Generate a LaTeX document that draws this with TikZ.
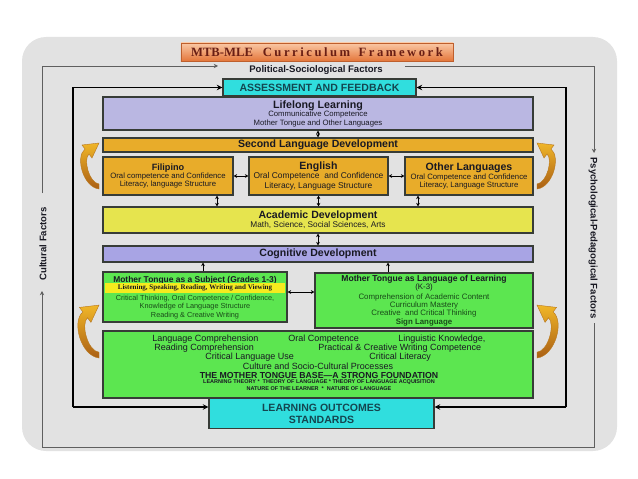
\documentclass[tikz,border=0pt]{standalone}
\usepackage{fontspec}
\setmainfont{Liberation Sans}
\newfontfamily\titlefont[LetterSpace=20]{Liberation Serif}
\newfontfamily\plainserif{Liberation Serif}
\usetikzlibrary{arrows.meta, positioning, calc}
\definecolor{mypanel}{RGB}{226,226,226}
\definecolor{myframe}{RGB}{95,95,95}
\definecolor{mycyan}{RGB}{48,222,222}
\definecolor{myteal}{RGB}{20,70,80}
\definecolor{mylav}{RGB}{186,183,226}
\definecolor{mylavdark}{RGB}{168,164,228}
\definecolor{myorange}{RGB}{232,172,42}
\definecolor{myyellow}{RGB}{230,228,78}
\definecolor{mystrip}{RGB}{245,235,30}
\definecolor{mygreen}{RGB}{92,230,80}
\definecolor{mygtext}{RGB}{25,75,25}
\definecolor{myedge}{RGB}{55,60,55}
\definecolor{mytext}{RGB}{25,25,35}
\definecolor{titletop}{RGB}{250,200,165}
\definecolor{titlebot}{RGB}{228,118,58}
\definecolor{titleedge}{RGB}{190,95,45}
\definecolor{titletext}{RGB}{105,30,20}
\definecolor{arrowgold}{RGB}{240,182,40}
\definecolor{arrowbrown}{RGB}{170,95,20}
\definecolor{arrowedge}{RGB}{185,120,30}
\tikzset{
  box/.style={rectangle, draw=myedge, line width=0.8pt, inner sep=0pt,
    align=center, text=mytext, font=\fontsize{5.5}{6}\selectfont},
  widebox/.style={box, minimum width=10.75cm},
  head/.style={font=\fontsize{7.5}{8}\selectfont\bfseries},
  frame/.style={draw=black, line width=1.3pt},
  factor/.style={draw=myframe, line width=0.6pt},
  factortext/.style={font=\fontsize{6.8}{7}\selectfont\bfseries, text=mytext, inner sep=0pt},
  basetext/.style={font=\fontsize{6.4}{7}\selectfont, text=mytext, inner sep=0pt},
  tinycaps/.style={font=\fontsize{3.9}{4.6}\selectfont\bfseries, text=mytext, inner sep=0pt, align=center},
  dblarrow/.style={{Stealth[length=2.5pt,width=2.6pt]}-{Stealth[length=2.5pt,width=2.6pt]}, line width=0.7pt},
  uparrow/.style={-{Stealth[length=2.5pt,width=2.6pt]}, line width=0.7pt},
  curlarrow/.pic={
    \shade[top color=arrowgold, bottom color=arrowbrown, draw=arrowedge, line width=0.3pt]
      (0,-5) .. controls (-10,-6) and (-16,-30) .. (-10,-35)
      -- (-7,-31) -- (0,-46) -- (-17,-44) -- (-14,-40)
      .. controls (-24,-32) and (-16,-2) .. (0,0) -- cycle;
  }
}

\begin{document}
\begin{tikzpicture}[x=0.025cm, y=-0.025cm]
  \useasboundingbox (0,0) rectangle (638,479);
  \fill[mypanel, rounded corners=0.6cm] (22,37) rectangle (617,451);

  % Title
  \node[rectangle, draw=titleedge, line width=0.5pt, top color=titletop, bottom color=titlebot,
    minimum width=6.8cm, minimum height=0.45cm, inner sep=0pt, text=titletext] (title) at (317,52)
    {{\plainserif\bfseries\fontsize{9}{10}\selectfont MTB-MLE}\hspace{7pt}{\titlefont\bfseries\fontsize{9}{10}\selectfont Curriculum\hspace{6pt}Framework}};

  % Factors round the outside
  \node[factortext] (pol) at (316,70) {Political-Sociological Factors};
  \node[factortext, rotate=90] (cult) at (43,244) {Cultural Factors};
  \node[factortext, rotate=-90] (psy) at (593,238) {Psychological-Pedagogical Factors};
  \coordinate (gtl) at (42,66);
  \coordinate (gtr) at (594,66);
  \coordinate (gbr) at (594,447);
  \coordinate (gbl) at (42,447);
  \coordinate (pa) at (218,66);
  \coordinate (pb) at (405,66);
  \coordinate (psa) at (594,153);
  \coordinate (psb) at (594,323);
  \coordinate (ca) at (42,291);
  \coordinate (cb) at (42,193);
  \draw[factor, -{Stealth[length=3pt,width=3pt]}] (cb) -- (gtl) -- (pa);
  \draw[factor, -{Stealth[length=3pt,width=3pt]}] (pb) -- (gtr) -- (psa);
  \draw[factor, -{Stealth[length=3pt,width=3pt]}] (psb) -- (gbr) -- (gbl) -- (ca);

  % Boxes
  \node[box, fill=mycyan, minimum width=4.825cm, minimum height=0.425cm, text=myteal,
    font=\fontsize{7.5}{8}\selectfont\bfseries] (assess) at (319.5,87.5) {ASSESSMENT AND FEEDBACK};
  \node[widebox, fill=mylav, minimum height=0.825cm] (life) at (318,113.5)
    {{\fontsize{7.6}{8}\selectfont\bfseries Lifelong Learning}\\Communicative Competence\\Mother Tongue and Other Languages};
  \node[widebox, fill=myorange, minimum height=0.35cm, head] (second) at (318,145) {Second Language Development};
  \node[box, fill=myorange, minimum width=3.25cm, minimum height=0.95cm] (fil) at (168,176)
    {{\fontsize{6.5}{7}\selectfont\bfseries Filipino}\\Oral competence and Confidence\\Literacy, language Structure};
  \node[box, fill=myorange, minimum width=3.475cm, minimum height=0.95cm, font=\fontsize{6}{6.6}\selectfont] (eng) at (318.5,176)
    {{\fontsize{7.5}{8}\selectfont\bfseries English}\\Oral Competence\ \ and Confidence\\Literacy, Language Structure};
  \node[box, fill=myorange, minimum width=3.2cm, minimum height=0.95cm] (oth) at (469,176)
    {{\fontsize{7.5}{8}\selectfont\bfseries Other Languages}\\Oral Competence and Confidence\\Literacy, Language Structure};
  \node[widebox, fill=myyellow, minimum height=0.65cm, font=\fontsize{5.9}{6.6}\selectfont] (acad) at (318,220)
    {{\fontsize{7.5}{8}\selectfont\bfseries Academic Development}\\Math, Science, Social Sciences, Arts};
  \node[widebox, fill=mylavdark, minimum height=0.4cm, head] (cog) at (318,254) {Cognitive Development};

  % Mother tongue boxes
  \node[box, fill=mygreen, minimum width=4.6cm, minimum height=1.25cm] (mts) at (195,297) {};
  \node[inner sep=0pt, font=\fontsize{6}{6.5}\selectfont\bfseries, text=mytext] (mtstitle) at (195,280)
    {Mother Tongue as a Subject (Grades 1-3)};
  \node[fill=mystrip, minimum width=4.5cm, minimum height=0.24cm, inner sep=0pt,
    font=\plainserif\bfseries\fontsize{5}{5.5}\selectfont, text=mytext] (strip) at (195,288)
    {Listening, Speaking, Reading, Writing and Viewing};
  \node[inner sep=0pt, align=center, font=\fontsize{5.2}{5.8}\selectfont, text=mygtext] (mtstext) at (195,307)
    {Critical Thinking, Oral Competence / Confidence,\\Knowledge of Language Structure\\Reading \& Creative Writing};
  \node[box, fill=mygreen, minimum width=5.45cm, minimum height=1.375cm, text=mygtext,
    font=\fontsize{5.6}{5.9}\selectfont] (mtl) at (424,300.5)
    {{\fontsize{6.1}{6.3}\selectfont\bfseries\color{mytext}Mother Tongue as Language of Learning}\\
     {\color{mytext}(K-3)}\\[1pt]
     Comprehension of Academic Content\\Curriculum Mastery\\Creative\ \ and Critical Thinking\\\textbf{Sign Language}};

  % Base box
  \node[widebox, fill=mygreen, minimum height=1.675cm] (base) at (318,364.5) {};
  \node[basetext, anchor=west] (lc) at (152,339) {Language Comprehension};
  \node[basetext, anchor=west] (oc) at (288,339) {Oral Competence};
  \node[basetext, anchor=west] (lk) at (398,339) {Linguistic Knowledge,};
  \node[basetext, anchor=west] (rc) at (154,348) {Reading Comprehension};
  \node[basetext, anchor=west] (pw) at (318,348) {Practical \& Creative Writing Competence};
  \node[basetext, anchor=west] (cl) at (205,357) {Critical Language Use};
  \node[basetext, anchor=west] (lit) at (369,357) {Critical Literacy};
  \node[basetext] (cult2) at (318,366) {Culture and Socio-Cultural Processes};
  \node[basetext, font=\fontsize{6.2}{7}\selectfont\bfseries] (found) at (319,375) {THE MOTHER TONGUE BASE—A STRONG FOUNDATION};
  \node[tinycaps] (theory) at (319,385)
    {LEARNING THEORY *\ \ THEORY OF LANGUAGE * THEORY OF LANGUAGE ACQUISITION\\NATURE OF THE LEARNER\ \ *\ \ NATURE OF LANGUAGE};

  \node[box, fill=mycyan, minimum width=5.625cm, minimum height=0.75cm, text=myteal,
    font=\fontsize{7.5}{8.4}\selectfont\bfseries] (outc) at (321.5,413.5) {LEARNING OUTCOMES\\STANDARDS};

  % Thick frame
  \coordinate (ftl) at (73,87.5);
  \coordinate (ftr) at (566,87.5);
  \coordinate (fbl) at (73,407);
  \coordinate (fbr) at (566,407);
  \draw[frame, -{Stealth[length=4pt,width=4pt]}] (fbl) -- (ftl) -- (assess.west);
  \draw[frame, -{Stealth[length=4pt,width=4pt]}] (fbr) -- (ftr) -- (assess.east);
  \draw[frame, -{Stealth[length=4pt,width=4pt]}] (fbl) -- (fbl -| outc.west);
  \draw[frame, -{Stealth[length=4pt,width=4pt]}] (fbr) -- (fbr -| outc.east);

  % Links between boxes
  \coordinate (xa) at (217,0);
  \coordinate (xc) at (418,0);
  \coordinate (xd) at (203,0);
  \coordinate (xe) at (388,0);
  \coordinate (ym) at (0,292);
  \draw[dblarrow] (life) -- (second);
  \draw[dblarrow] (fil) -- (eng);
  \draw[dblarrow] (eng) -- (oth);
  \draw[dblarrow] (fil.south -| xa) -- (acad.north -| xa);
  \draw[dblarrow] (eng.south) -- (eng.south |- acad.north);
  \draw[dblarrow] (oth.south -| xc) -- (acad.north -| xc);
  \draw[dblarrow] (acad) -- (cog);
  \draw[uparrow] (mts.north -| xd) -- (cog.south -| xd);
  \draw[uparrow] (mtl.north -| xe) -- (cog.south -| xe);
  \draw[dblarrow] (mts.east |- ym) -- (mtl.west |- ym);

  % Curled arrows at the sides
  \pic at (99,189) {curlarrow};
  \pic[scale=1.15] at (99,358) {curlarrow};
  \pic[xscale=-1] at (537,189) {curlarrow};
  \pic[xscale=-1, scale=1.15] at (537,358) {curlarrow};
\end{tikzpicture}
\end{document}
